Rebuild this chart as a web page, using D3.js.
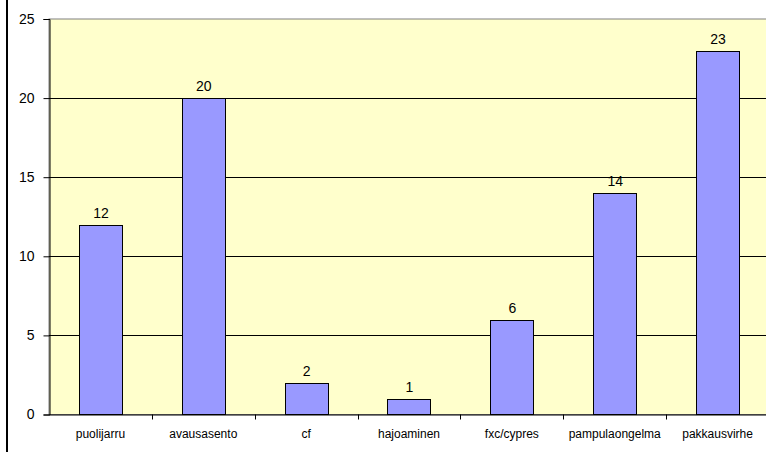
<!DOCTYPE html>
<html><head><meta charset="utf-8">
<script src="https://cdn.jsdelivr.net/npm/d3@7"></script>
<style>body{margin:0;background:#fff}svg{display:block}</style>
</head><body>
<script>
const categories = ["puolijarru","avausasento","cf","hajoaminen","fxc/cypres","pampulaongelma","pakkausvirhe"];
const values = [12,20,2,1,6,14,23];
const yTicks = [0,5,10,15,20,25];

const W=766,H=452;
const m={left:49,top:19,right:-3,bottom:37};
const svg=d3.select("body").append("svg").attr("width",W).attr("height",H);
const x=d3.scaleBand().domain(categories).range([m.left,W-m.right]).paddingInner(0.58).paddingOuter(0.29);
const xb=d3.scaleBand().domain(categories).range([m.left,W-m.right]);
const y=d3.scaleLinear().domain([0,25]).range([H-m.bottom-0.5,m.top]);
const font="Arial, Liberation Sans";

svg.append("line").attr("x1",7).attr("x2",7).attr("y1",0).attr("y2",H).attr("stroke","#000").attr("stroke-width",2);
svg.append("rect").attr("x",m.left).attr("y",m.top).attr("width",W-m.right-m.left).attr("height",y(0)-m.top)
  .attr("fill","#FFFFCC").attr("stroke","#808080");

svg.append("g").selectAll("line").data(yTicks.filter(d=>d>0&&d<25)).join("line")
  .attr("x1",m.left).attr("x2",W).attr("y1",d=>Math.round(y(d))+0.5).attr("y2",d=>Math.round(y(d))+0.5)
  .attr("stroke","#000").attr("stroke-width",1);

svg.append("g").selectAll("rect").data(values).join("rect")
  .attr("x",(d,i)=>Math.round(x(categories[i]))+0.5).attr("width",Math.round(x.bandwidth()))
  .attr("y",d=>Math.round(y(d))+0.5).attr("height",d=>y(0)-Math.round(y(d))-0.5)
  .attr("fill","#9999FF").attr("stroke","#000").attr("stroke-width",1);

svg.append("g").selectAll("text").data(values).join("text")
  .attr("x",(d,i)=>x(categories[i])+x.bandwidth()/2+0.5).attr("y",d=>y(d)-7)
  .attr("text-anchor","middle").attr("font-family",font).attr("font-size",14).text(d=>d);

const ya=svg.append("g").attr("transform",`translate(${m.left+0.5},0)`)
  .call(d3.axisLeft(y).tickValues(yTicks).tickSize(6).tickPadding(9));
ya.select(".domain").attr("stroke","#000");
ya.selectAll("text").attr("font-family",font).attr("font-size",14).attr("fill","#000");

const xa=svg.append("g").attr("transform",`translate(0,${y(0)})`)
  .call(d3.axisBottom(xb).tickSize(0).tickPadding(15));
xa.select(".domain").attr("stroke","#000");
xa.selectAll("text").attr("font-family",font).attr("font-size",12).attr("fill","#000");
xa.append("g").selectAll("line").data(categories.slice(1)).join("line")
  .attr("x1",d=>Math.round(xb(d))+0.5).attr("x2",d=>Math.round(xb(d))+0.5).attr("y1",0).attr("y2",5).attr("stroke","#000");
</script>
</body></html>
